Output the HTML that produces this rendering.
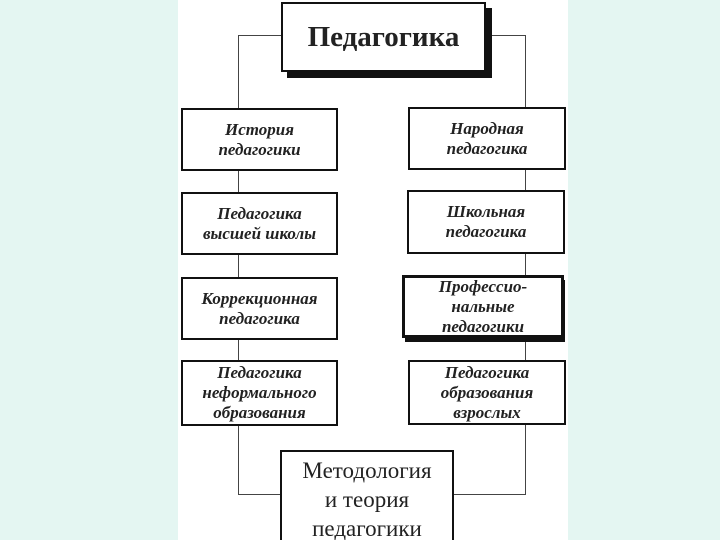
<!DOCTYPE html>
<html style="overflow:hidden;height:540px"><head><meta charset="utf-8"><style>
html,body{margin:0;padding:0;}
body{width:720px;height:540px;background:#e4f6f2;position:relative;overflow:hidden;font-family:"Liberation Serif","Noto Serif CJK SC",serif;}
.page{position:absolute;left:178px;top:0;width:390px;height:540px;background:#fff;}
.b{position:absolute;box-sizing:border-box;border:2px solid #111;background:#fff;display:flex;align-items:center;justify-content:center;text-align:center;font-style:italic;font-weight:bold;font-size:17px;line-height:20px;color:#222;}
.l{position:absolute;background:#444;}
</style></head><body>
<div class="page"></div>
<div class="l" style="left:238px;top:35px;width:44px;height:1px"></div>
<div class="l" style="left:238px;top:35px;width:1px;height:460px"></div>
<div class="l" style="left:238px;top:494px;width:44px;height:1px"></div>
<div class="l" style="left:486px;top:35px;width:40px;height:1px"></div>
<div class="l" style="left:525px;top:35px;width:1px;height:460px"></div>
<div class="l" style="left:452px;top:494px;width:74px;height:1px"></div>
<div style="position:absolute;left:287px;top:8px;width:205px;height:70px;background:#111"></div>
<div class="b" style="left:281px;top:2px;width:205px;height:70px;font-style:normal;font-size:29px">Педагогика</div>
<div class="b" style="left:181px;top:108px;width:157px;height:63px">История<br>педагогики</div>
<div class="b" style="left:181px;top:192px;width:157px;height:63px">Педагогика<br>высшей школы</div>
<div class="b" style="left:181px;top:277px;width:157px;height:63px">Коррекционная<br>педагогика</div>
<div class="b" style="left:181px;top:360px;width:157px;height:66px">Педагогика<br>неформального<br>образования</div>
<div class="b" style="left:408px;top:107px;width:158px;height:63px">Народная<br>педагогика</div>
<div class="b" style="left:407px;top:190px;width:158px;height:64px">Школьная<br>педагогика</div>
<div style="position:absolute;left:405px;top:280px;width:160px;height:62px;background:#111"></div>
<div class="b" style="left:402px;top:275px;width:162px;height:63px;border-width:3px">Профессио-<br>нальные<br>педагогики</div>
<div class="b" style="left:408px;top:360px;width:158px;height:65px">Педагогика<br>образования<br>взрослых</div>
<div class="b" style="left:280px;top:450px;width:174px;height:90px;border-bottom:none;font-style:normal;font-weight:normal;font-size:23px;line-height:29px;align-items:flex-start;padding-top:4px">Методология<br>и теория<br>педагогики</div>
</body></html>
